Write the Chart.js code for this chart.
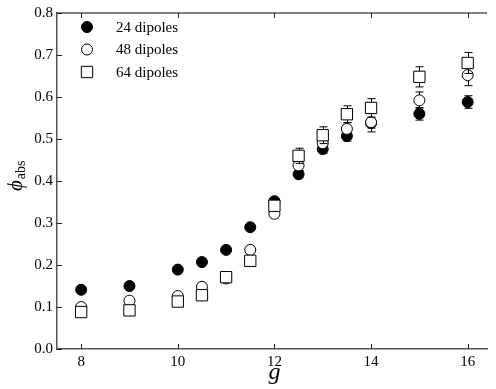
<!DOCTYPE html>
<html>
<head>
<meta charset="utf-8">
<script src="https://cdn.jsdelivr.net/npm/chart.js@4/dist/chart.umd.min.js"></script>
<style>
  body { margin: 0; background: #fff; }
  canvas { display: block; }
</style>
</head>
<body>
<canvas id="grafica" width="496" height="389"></canvas>
<script>
// datos
const g = [8, 9, 10, 10.5, 11, 11.5, 12, 12.5, 13, 13.5, 14, 15, 16]
const phi24 = [0.141, 0.150, 0.189, 0.207, 0.236, 0.290, 0.352, 0.416, 0.476, 0.507, 0.538, 0.560, 0.588]
const err24 = [0.005, 0.005, 0.005, 0.005, 0.005, 0.006, 0.008, 0.008, 0.010, 0.012, 0.012, 0.015, 0.015]
const phi48 = [0.100, 0.115, 0.126, 0.148, 0.168, 0.236, 0.322, 0.437, 0.490, 0.524, 0.540, 0.592, 0.652]
const err48 = [0.005, 0.005, 0.005, 0.006, 0.006, 0.007, 0.010, 0.012, 0.012, 0.015, 0.023, 0.020, 0.025]
const phi64 = [0.088, 0.092, 0.113, 0.128, 0.171, 0.210, 0.341, 0.460, 0.509, 0.559, 0.574, 0.648, 0.681]
const err64 = [0.004, 0.005, 0.005, 0.006, 0.006, 0.007, 0.010, 0.018, 0.020, 0.020, 0.022, 0.024, 0.025]
const labels = ['24 dipoles', '48 dipoles', '64 dipoles']
const xTicks = [8, 10, 12, 14, 16]
const yTicks = [0, 0.1, 0.2, 0.3, 0.4, 0.5, 0.6, 0.7, 0.8]

const serif = "'Liberation Serif', 'DejaVu Serif', serif"
const axisColor = '#555'
const errs = [err24, err48, err64]

Chart.defaults.font.family = serif
Chart.defaults.color = '#000'

const pts = (ys) => g.map((x, i) => ({ x: x, y: ys[i] }))

// barras de error, debajo de cada marcador
const errorBars = {
    id: 'errorBars',
    beforeDatasetDraw(chart, args) {
        const e = errs[args.index]
        if (!e) return
        const ctx = chart.ctx
        const xs = chart.scales.x, ys = chart.scales.y
        ctx.save()
        ctx.strokeStyle = '#000'
        ctx.lineWidth = 1
        g.forEach((xv, i) => {
            const v = chart.data.datasets[args.index].data[i].y
            const px = Math.round(xs.getPixelForValue(xv)) + 0.5
            const top = ys.getPixelForValue(v + e[i])
            const bot = ys.getPixelForValue(v - e[i])
            ctx.beginPath()
            ctx.moveTo(px, top); ctx.lineTo(px, bot)
            ctx.moveTo(px - 4, top); ctx.lineTo(px + 4, top)
            ctx.moveTo(px - 4, bot); ctx.lineTo(px + 4, bot)
            ctx.stroke()
        })
        ctx.restore()
    }
}

// marcas hacia dentro, marco superior, leyenda y titulos
const decor = {
    id: 'decor',
    afterDraw(chart) {
        const ctx = chart.ctx
        const a = chart.chartArea
        const xs = chart.scales.x, ys = chart.scales.y
        ctx.save()
        ctx.strokeStyle = axisColor
        ctx.lineWidth = 1.5
        ctx.beginPath()
        ctx.moveTo(a.left, a.top); ctx.lineTo(a.right, a.top)
        ctx.stroke()
        ctx.lineWidth = 1
        ctx.strokeStyle = '#222'
        ctx.beginPath()
        xTicks.forEach(t => {
            const px = Math.round(xs.getPixelForValue(t)) + 0.5
            ctx.moveTo(px, a.bottom); ctx.lineTo(px, a.bottom - 5)
            ctx.moveTo(px, a.top); ctx.lineTo(px, a.top + 5)
        })
        yTicks.forEach(t => {
            const py = Math.round(ys.getPixelForValue(t)) + 0.5
            ctx.moveTo(a.left, py); ctx.lineTo(a.left + 5, py)
        })
        ctx.stroke()

        // leyenda
        chart.data.datasets.forEach((ds, i) => {
            const y = 27 + i * 22.5
            ctx.fillStyle = ds.backgroundColor
            ctx.strokeStyle = ds.borderColor
            ctx.lineWidth = ds.borderWidth
            ctx.beginPath()
            if (ds.pointStyle === 'rect') {
                const r = ds.pointRadius * Math.SQRT1_2
                ctx.rect(87 - r, y - r, 2 * r, 2 * r)
            } else {
                ctx.arc(87, y, ds.pointRadius, 0, Math.PI * 2)
            }
            ctx.fill(); ctx.stroke()
            ctx.fillStyle = '#000'
            ctx.font = '15px ' + serif
            ctx.textAlign = 'left'
            ctx.textBaseline = 'middle'
            ctx.fillText(ds.label, 116, y + 1)
        })

        // titulo eje x
        ctx.fillStyle = '#000'
        ctx.font = 'italic 24px ' + serif
        ctx.textAlign = 'center'
        ctx.textBaseline = 'alphabetic'
        ctx.fillText('g', xs.getPixelForValue(12), 379)

        // titulo eje y
        ctx.translate(22, 191)
        ctx.rotate(-Math.PI / 2)
        ctx.textAlign = 'left'
        ctx.font = 'italic 21px ' + serif
        ctx.fillText('ϕ', 0, 0)
        const w = ctx.measureText('ϕ').width
        ctx.font = '14px ' + serif
        ctx.fillText('abs', w + 1, 3)
        ctx.restore()
    }
}

const data = {
    datasets: [{
        label: labels[0],
        data: pts(phi24),
        pointStyle: 'circle',
        pointRadius: 5.5,
        backgroundColor: '#000',
        borderColor: '#000',
        borderWidth: 1,
        order: 3
    }, {
        label: labels[1],
        data: pts(phi48),
        pointStyle: 'circle',
        pointRadius: 5.5,
        backgroundColor: '#fff',
        borderColor: '#000',
        borderWidth: 1,
        order: 2
    }, {
        label: labels[2],
        data: pts(phi64),
        pointStyle: 'rect',
        pointRadius: 8,
        backgroundColor: '#fff',
        borderColor: '#000',
        borderWidth: 1,
        order: 1
    }]
}

const config = {
    type: 'scatter',
    data: data,
    options: {
        responsive: false,
        animation: false,
        layout: { padding: { top: 5, right: 0, left: 0, bottom: 0 } },
        plugins: { legend: { display: false }, tooltip: { enabled: false } },
        scales: {
            x: {
                type: 'linear',
                min: 7.5,
                max: 16.4,
                afterBuildTicks: s => { s.ticks = xTicks.map(v => ({ value: v })) },
                afterFit: s => { s.height = 40 },
                grid: { display: false, drawTicks: false },
                border: { display: true, color: axisColor, width: 1.5 },
                ticks: {
                    maxRotation: 0,
                    padding: 4,
                    color: '#000',
                    font: { family: serif, size: 15 }
                }
            },
            y: {
                min: 0,
                max: 0.8,
                afterBuildTicks: s => { s.ticks = yTicks.map(v => ({ value: v })) },
                afterFit: s => { s.width = 57 },
                grid: { display: false, drawTicks: false },
                border: { display: true, color: axisColor, width: 1.5 },
                ticks: {
                    padding: 4,
                    color: '#000',
                    font: { family: serif, size: 15 },
                    callback: v => v.toFixed(1)
                }
            }
        }
    },
    plugins: [errorBars, decor]
}

new Chart(document.querySelector('#grafica'), config)
</script>
</body>
</html>
